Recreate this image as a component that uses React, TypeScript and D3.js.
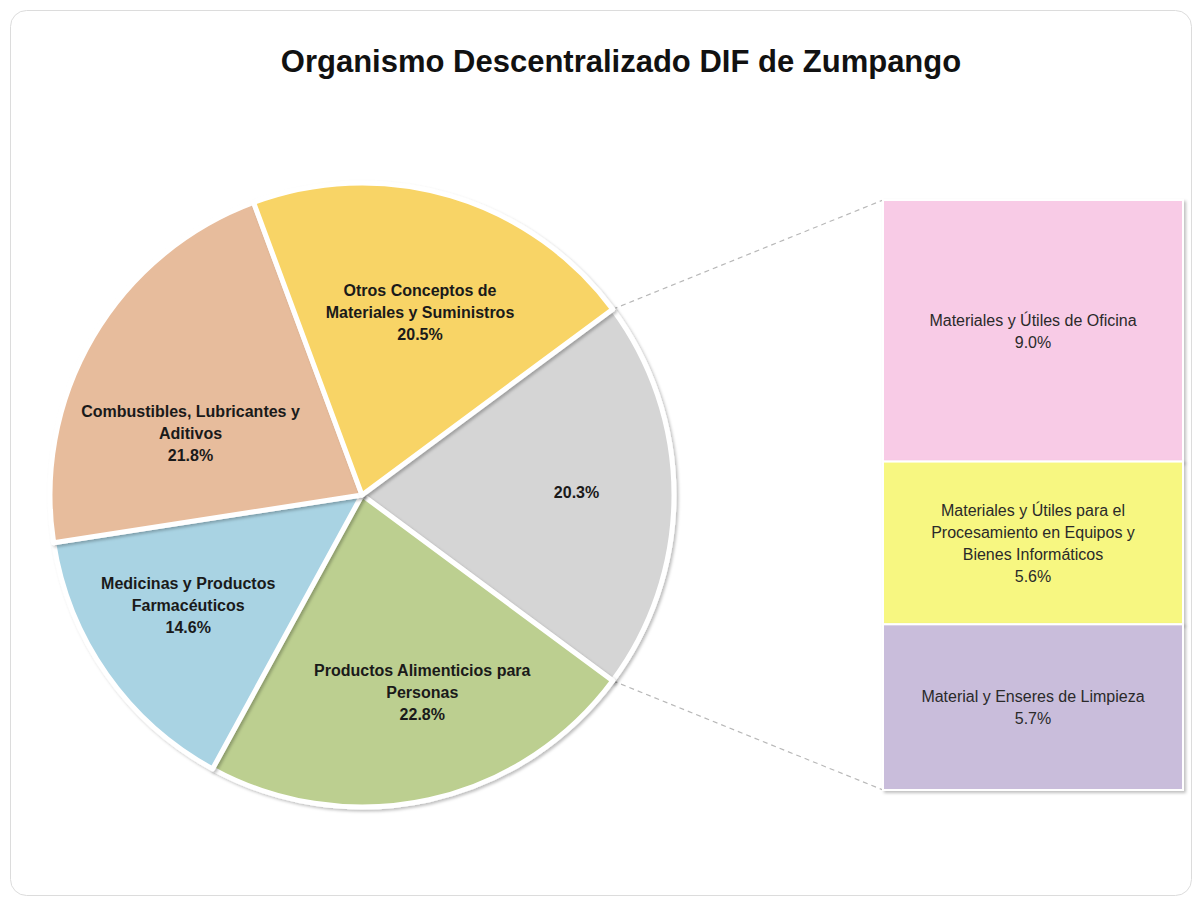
import React from "react";
import * as d3 from "d3";

// pie slices, clockwise starting with the aggregated "other" slice
const pieNames = [
  "",
  "Productos Alimenticios para\nPersonas",
  "Medicinas y Productos\nFarmacéuticos",
  "Combustibles, Lubricantes y\nAditivos",
  "Otros Conceptos de\nMateriales y Suministros",
];
const pieOwnValues = [22.8, 14.6, 21.8, 20.5];
const pieColors = ["#d5d5d5", "#bccf90", "#a9d3e3", "#e7bc9c", "#f8d466"];

// bar of pie breakdown (top to bottom)
const barNames = [
  "Materiales y Útiles de Oficina",
  "Materiales y Útiles para el\nProcesamiento en Equipos y\nBienes Informáticos",
  "Material y Enseres de Limpieza",
];
const barValues = [9.0, 5.6, 5.7];
const barColors = ["#f8cbe6", "#f7f781", "#c9bddb"];

const title = "Organismo Descentralizado DIF de Zumpango";

const W = 1198;
const H = 905;
const cx = 362;
const cy = 495;
const R = 312;
const bar = { x0: 883, x1: 1183, y0: 200, y1: 790 };

// small label nudges (Excel "best fit" placement)
const labelShift: Record<number, [number, number]> = {
  0: [18, -3],
  1: [18, 5],
  2: [-13, -3],
  3: [-2, 38],
  4: [2, 5],
};

const fmt = (v: number) => d3.format(".1f")(v) + "%";

export default function App() {
  const otherTotal = d3.sum(barValues);
  const values = [otherTotal, ...pieOwnValues];
  const total = d3.sum(values);
  const half = (otherTotal / total) * Math.PI;
  const start = Math.PI / 2 - half;

  const arcs = d3
    .pie<number>()
    .sort(null)
    .startAngle(start)
    .endAngle(start + 2 * Math.PI)(values);

  const arc = d3.arc<d3.PieArcDatum<number>>().innerRadius(0).outerRadius(R);
  const labelArc = d3
    .arc<d3.PieArcDatum<number>>()
    .innerRadius(R * 0.63)
    .outerRadius(R * 0.63);

  const yScale = d3.scaleLinear().domain([0, otherTotal]).range([bar.y0, bar.y1]);
  const stacked = barValues.map((v, i) => {
    const before = d3.sum(barValues.slice(0, i));
    return { v, i, top: yScale(before), bottom: yScale(before + v) };
  });

  const g = arcs[0];
  const p1 = [cx + R * Math.sin(g.startAngle), cy - R * Math.cos(g.startAngle)];
  const p2 = [cx + R * Math.sin(g.endAngle), cy - R * Math.cos(g.endAngle)];

  const lineH = 22;

  return (
    <svg
      width={W}
      height={H}
      style={{ position: "absolute", left: 0, top: 0, background: "#fff" }}
      fontFamily="'Liberation Sans', Arial, sans-serif"
    >
      <defs>
        <filter id="sh" x="-10%" y="-10%" width="120%" height="120%">
          <feDropShadow dx="2" dy="2" stdDeviation="1.5" floodColor="#000" floodOpacity="0.25" />
        </filter>
      </defs>
      <rect x={10.5} y={10.5} width={1181} height={885} rx={16} fill="#fff" stroke="#dcdcdc" />

      <text
        x={621}
        y={72}
        textAnchor="middle"
        fontSize={31}
        fontWeight="bold"
        fill="#111"
      >
        {title}
      </text>

      {/* connector lines */}
      <line x1={p1[0]} y1={p1[1]} x2={bar.x0} y2={bar.y0} stroke="#b8b8b8" strokeWidth={1.2} strokeDasharray="5,4" />
      <line x1={p2[0]} y1={p2[1]} x2={bar.x0} y2={bar.y1} stroke="#b8b8b8" strokeWidth={1.2} strokeDasharray="5,4" />

      <g transform={`translate(${cx},${cy})`}>
        {arcs.map((a, i) => (
          <path
            key={i}
            d={arc(a) || ""}
            fill={pieColors[i]}
            stroke="#fff"
            strokeWidth={5}
            strokeLinejoin="round"
            filter="url(#sh)"
          />
        ))}
        {arcs.map((a, i) => {
          const [lx, ly] = labelArc.centroid(a);
          const [sx, sy] = labelShift[i] || [0, 0];
          const lines = pieNames[i] ? pieNames[i].split("\n") : [];
          lines.push(fmt(a.data));
          const y0 = ly + sy - ((lines.length - 1) * lineH) / 2;
          return (
            <text
              key={i}
              x={lx + sx}
              y={y0}
              textAnchor="middle"
              dominantBaseline="central"
              fontSize={16}
              fontWeight="bold"
              fill="#1a1a1a"
            >
              {lines.map((t, j) => (
                <tspan key={j} x={lx + sx} y={y0 + j * lineH}>
                  {t}
                </tspan>
              ))}
            </text>
          );
        })}
      </g>

      {/* bar of pie */}
      {stacked.map((s) => (
        <rect
          key={s.i}
          x={bar.x0}
          y={s.top}
          width={bar.x1 - bar.x0}
          height={s.bottom - s.top}
          fill={barColors[s.i]}
          stroke="#fff"
          strokeWidth={2}
          filter="url(#sh)"
        />
      ))}
      {stacked.map((s) => {
        const lines = barNames[s.i].split("\n");
        lines.push(fmt(s.v));
        const mx = (bar.x0 + bar.x1) / 2;
        const my = (s.top + s.bottom) / 2;
        const y0 = my - ((lines.length - 1) * lineH) / 2;
        return (
          <text
            key={s.i}
            textAnchor="middle"
            dominantBaseline="central"
            fontSize={16}
            fill="#2a2a2a"
          >
            {lines.map((t, j) => (
              <tspan key={j} x={mx} y={y0 + j * lineH}>
                {t}
              </tspan>
            ))}
          </text>
        );
      })}
    </svg>
  );
}
